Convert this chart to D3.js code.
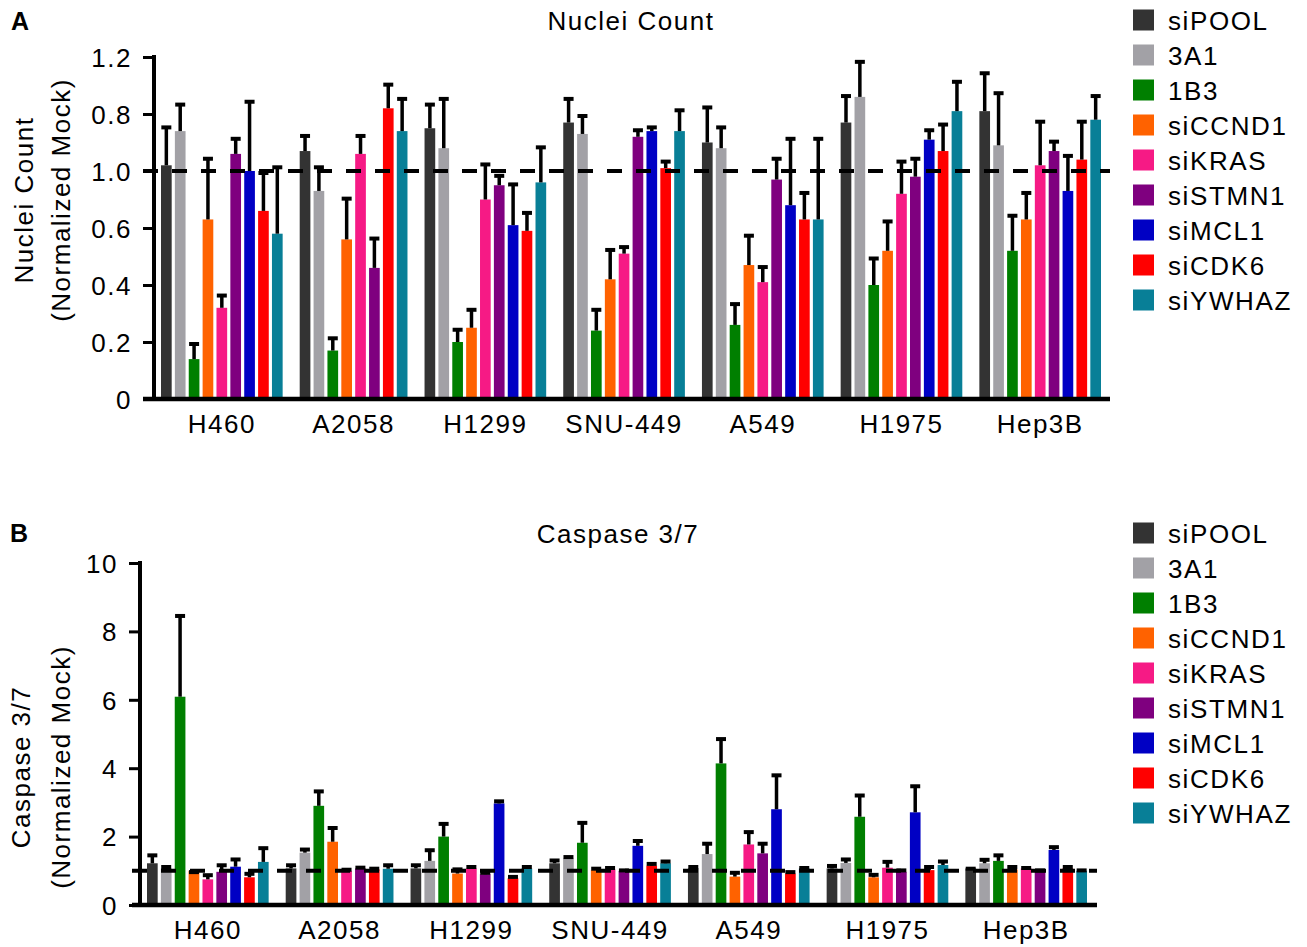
<!DOCTYPE html>
<html>
<head>
<meta charset="utf-8">
<script src="https://cdn.jsdelivr.net/npm/d3@7"></script>
<style>
body { margin: 0; background: #fff; }
text { font-family: "Liberation Sans", Arial, sans-serif; fill: #000; }
</style>
</head>
<body>
<script>
var cellLines = ['H460', 'A2058', 'H1299', 'SNU-449', 'A549', 'H1975', 'Hep3B'];
var treatments = ['siPOOL', '3A1', '1B3', 'siCCND1', 'siKRAS', 'siSTMN1', 'siMCL1', 'siCDK6', 'siYWHAZ'];
var treatmentColors = ['#333333', '#a2a1a6', '#007f00', '#ff6200', '#f61a85', '#7f007f', '#0000c4', '#ff0000', '#087f97'];

// panel A, read on the drawn linear axis (the "1.0" label sits at 0.8)
var nucleiMean = [
  [0.82, 0.94, 0.14, 0.63, 0.32, 0.86, 0.80, 0.66, 0.58],
  [0.87, 0.73, 0.17, 0.56, 0.86, 0.46, null, 1.02, 0.94],
  [0.95, 0.88, 0.20, 0.25, 0.70, 0.75, 0.61, 0.59, 0.76],
  [0.97, 0.93, 0.24, 0.42, 0.51, 0.92, 0.94, 0.81, 0.94],
  [0.90, 0.88, 0.26, 0.47, 0.41, 0.77, 0.68, 0.63, 0.63],
  [0.97, 1.06, 0.40, 0.52, 0.72, 0.78, 0.91, 0.87, 1.01],
  [1.01, 0.89, 0.52, 0.63, 0.82, 0.87, 0.73, 0.84, 0.98]
];
var nucleiErr = [
  [0.14, 0.10, 0.06, 0.22, 0.05, 0.06, 0.25, 0.14, 0.24],
  [0.06, 0.09, 0.05, 0.15, 0.07, 0.11, null, 0.09, 0.12],
  [0.09, 0.18, 0.05, 0.07, 0.13, 0.04, 0.15, 0.07, 0.13],
  [0.09, 0.07, 0.08, 0.11, 0.03, 0.03, 0.02, 0.03, 0.08],
  [0.13, 0.08, 0.08, 0.11, 0.06, 0.08, 0.24, 0.10, 0.29],
  [0.10, 0.13, 0.10, 0.11, 0.12, 0.07, 0.04, 0.10, 0.11],
  [0.14, 0.19, 0.13, 0.10, 0.16, 0.04, 0.13, 0.14, 0.09]
];
var nucleiTicks = [0, 0.2, 0.4, 0.6, 0.8, 1.0, 1.2];
var nucleiTickLabels = ['0', '0.2', '0.4', '0.6', '1.0', '0.8', '1.2'];
var nucleiRef = 0.8;

var caspaseMean = [
  [1.22, 1.07, 6.09, 1.00, 0.75, 0.97, 1.12, 0.81, 1.26],
  [1.07, 1.53, 2.90, 1.85, 1.00, 1.07, null, 1.04, 1.06],
  [1.07, 1.29, 2.00, 0.92, 1.07, 0.90, 2.97, 0.78, 1.07],
  [1.22, 1.36, 1.82, 1.02, 1.04, 1.00, 1.73, 1.15, 1.22],
  [1.07, 1.49, 4.14, 0.83, 1.77, 1.51, 2.80, 0.92, 1.07],
  [1.07, 1.23, 2.58, 0.81, 1.09, 0.97, 2.71, 1.02, 1.17],
  [1.07, 1.22, 1.29, 1.04, 1.07, 1.00, 1.61, 1.07, 1.00]
];
var caspaseErr = [
  [0.29, 0.10, 2.42, 0.02, 0.18, 0.25, 0.27, 0.16, 0.46],
  [0.15, 0.15, 0.48, 0.46, 0.09, 0.08, null, 0.08, 0.16],
  [0.15, 0.37, 0.43, 0.18, 0.10, 0.10, 0.12, 0.10, 0.10],
  [0.14, 0.10, 0.64, 0.10, 0.10, 0.07, 0.20, 0.11, 0.11],
  [0.10, 0.36, 0.77, 0.17, 0.42, 0.34, 1.05, 0.10, 0.07],
  [0.13, 0.16, 0.68, 0.13, 0.23, 0.10, 0.82, 0.15, 0.16],
  [0.05, 0.16, 0.22, 0.13, 0.07, 0.07, 0.14, 0.10, 0.07]
];
var caspaseTicks = [0, 2, 4, 6, 8, 10];
var caspaseTickLabels = ['0', '2', '4', '6', '8', '10'];
var caspaseRef = 1;

var svg = d3.select('body').append('svg')
    .attr('width', 1307)
    .attr('height', 947);

var color = d3.scaleOrdinal().domain(treatments).range(treatmentColors);

function drawPanel(p) {
  var g = svg.append('g');

  // one slot per bar, an empty slot between cell lines
  var slots = [], bars = [], groups = [];
  cellLines.forEach(function(line, i) {
    if (i > 0) slots.push('gap' + i);
    var keys = [];
    treatments.forEach(function(t, j) {
      if (p.mean[i][j] == null) return;
      var key = line + '|' + t;
      slots.push(key);
      keys.push(key);
      bars.push({key: key, treatment: t, value: p.mean[i][j], err: p.err[i][j]});
    });
    groups.push({line: line, first: keys[0], last: keys[keys.length - 1]});
  });

  var x = d3.scaleBand()
      .domain(slots)
      .range([p.barStart, p.barEnd])
      .paddingInner(0.23)
      .paddingOuter(0);
  var y = d3.scaleLinear()
      .domain([0, p.ticks[p.ticks.length - 1]])
      .range([p.bottom, p.top]);

  g.selectAll('.bar')
      .data(bars)
      .enter().append('rect')
      .attr('class', 'bar')
      .attr('x', function(d) { return x(d.key); })
      .attr('y', function(d) { return y(d.value); })
      .attr('width', x.bandwidth())
      .attr('height', function(d) { return y(0) - y(d.value); })
      .style('fill', function(d) { return color(d.treatment); });

  g.append('line')
      .attr('x1', p.axisStart)
      .attr('x2', p.axisEnd)
      .attr('y1', y(p.ref))
      .attr('y2', y(p.ref))
      .style('stroke', '#000')
      .style('stroke-width', 4)
      .style('stroke-dasharray', '15,14');

  var cx = function(d) { return x(d.key) + x.bandwidth() / 2; };
  g.selectAll('.whisker')
      .data(bars)
      .enter().append('line')
      .attr('class', 'whisker')
      .attr('x1', cx)
      .attr('x2', cx)
      .attr('y1', function(d) { return y(d.value); })
      .attr('y2', function(d) { return y(d.value + d.err) + 1; })
      .style('stroke', '#000')
      .style('stroke-width', 3.5);
  g.selectAll('.cap')
      .data(bars)
      .enter().append('line')
      .attr('class', 'cap')
      .attr('x1', function(d) { return cx(d) - 5; })
      .attr('x2', function(d) { return cx(d) + 5; })
      .attr('y1', function(d) { return y(d.value + d.err) + 2; })
      .attr('y2', function(d) { return y(d.value + d.err) + 2; })
      .style('stroke', '#000')
      .style('stroke-width', 4);

  // axes
  var yAxis = d3.axisLeft(y)
      .tickValues(p.ticks)
      .tickFormat(function(d, i) { return p.tickLabels[i]; })
      .tickSize(11)
      .tickSizeOuter(0)
      .tickPadding(11);
  var ya = g.append('g')
      .attr('transform', 'translate(' + p.axisX + ',0)')
      .call(yAxis);
  ya.select('.domain')
      .attr('d', 'M0,' + (p.top - 2) + 'V' + (p.bottom + 2))
      .style('stroke-width', 4);
  ya.selectAll('.tick line').style('stroke-width', 3);
  ya.selectAll('.tick text')
      .style('font-size', '26px')
      .style('letter-spacing', '1.5px')
      .attr('dy', '0.36em');

  g.append('line')
      .attr('x1', p.axisStart)
      .attr('x2', p.axisEnd)
      .attr('y1', p.bottom)
      .attr('y2', p.bottom)
      .style('stroke', '#000')
      .style('stroke-width', 4.5);

  g.selectAll('.cat')
      .data(groups)
      .enter().append('text')
      .attr('class', 'cat')
      .attr('x', function(d) { return (x(d.first) + x(d.last) + x.bandwidth()) / 2; })
      .attr('y', p.bottom + 34)
      .attr('text-anchor', 'middle')
      .style('font-size', '26px')
      .style('letter-spacing', '1.5px')
      .text(function(d) { return d.line; });

  g.append('text')
      .attr('x', p.titleX)
      .attr('y', p.titleY)
      .attr('text-anchor', 'middle')
      .style('font-size', '26px')
      .style('letter-spacing', '1.5px')
      .text(p.title);

  g.append('text')
      .attr('x', p.letterX)
      .attr('y', p.letterY)
      .style('font-size', '25px')
      .style('font-weight', 'bold')
      .text(p.letter);

  p.yTitle.forEach(function(t, i) {
    g.append('text')
        .attr('transform', 'translate(' + p.yTitleX[i] + ',' + p.yTitleY + ') rotate(-90)')
        .attr('text-anchor', 'middle')
        .style('font-size', '26px')
        .style('letter-spacing', '1.5px')
        .text(t);
  });

  // legend
  var leg = g.selectAll('.legend')
      .data(treatments)
      .enter().append('g')
      .attr('class', 'legend')
      .attr('transform', function(d, i) { return 'translate(1133,' + (p.legendY + i * 35) + ')'; });
  leg.append('rect')
      .attr('x', 0)
      .attr('y', -10.5)
      .attr('width', 21)
      .attr('height', 21)
      .style('fill', function(d) { return color(d); });
  leg.append('text')
      .attr('x', 35)
      .attr('y', 9.5)
      .style('font-size', '26px')
      .style('letter-spacing', '1.6px')
      .text(function(d) { return d; });
}

drawPanel({
  mean: nucleiMean, err: nucleiErr,
  ticks: nucleiTicks, tickLabels: nucleiTickLabels, ref: nucleiRef,
  top: 57, bottom: 399,
  barStart: 161, barEnd: 1101,
  axisX: 154, axisStart: 143, axisEnd: 1110,
  title: 'Nuclei Count', titleX: 631, titleY: 30,
  letter: 'A', letterX: 11, letterY: 30,
  yTitle: ['Nuclei Count', '(Normalized Mock)'], yTitleX: [33, 70], yTitleY: 200,
  legendY: 20
});

drawPanel({
  mean: caspaseMean, err: caspaseErr,
  ticks: caspaseTicks, tickLabels: caspaseTickLabels, ref: caspaseRef,
  top: 563, bottom: 905,
  barStart: 147, barEnd: 1087,
  axisX: 140, axisStart: 132, axisEnd: 1097,
  title: 'Caspase 3/7', titleX: 618, titleY: 543,
  letter: 'B', letterX: 10, letterY: 542,
  yTitle: ['Caspase 3/7', '(Normalized Mock)'], yTitleX: [30, 70], yTitleY: 767,
  legendY: 533
});
</script>
</body>
</html>
